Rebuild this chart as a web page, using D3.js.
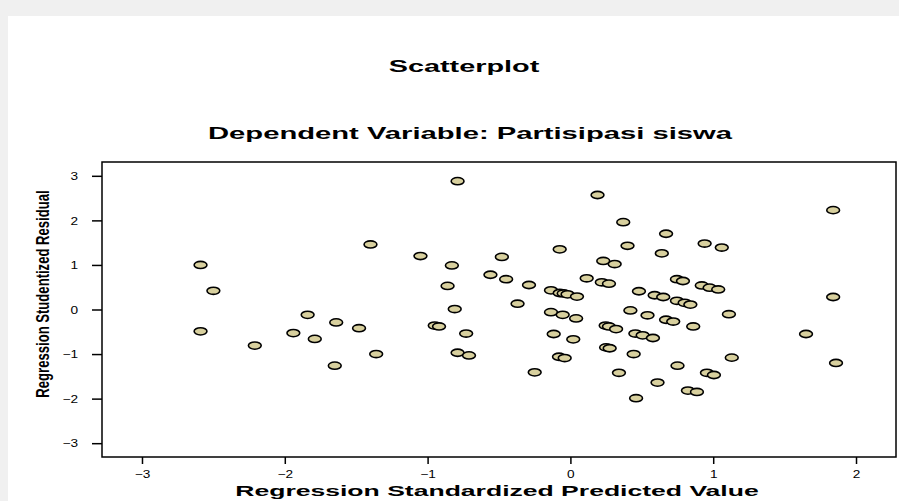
<!DOCTYPE html>
<html>
<head>
<meta charset="utf-8">
<script src="https://cdn.jsdelivr.net/npm/d3@7"></script>
<style>
  body { margin: 0; background: #f0f0f0; }
  text { font-family: "Liberation Sans", Arial, sans-serif; fill: #000; }
</style>
</head>
<body>
<div id="chart"></div>
<script>
/* DATA */
const predicted = [
  -1.40, -2.59, -2.50, -1.84, -1.64, -1.48, -2.59, -1.94, -1.79, -2.21, -1.36, -1.65,
  -0.79, 0.19, 0.37, 0.40, -0.075, -1.05, -0.48, -0.83, 0.23, 0.31, -0.56, -0.45,
  0.114, -0.86, -0.29, 0.22, 0.27, 0.48, -0.136, -0.075, -0.047, -0.02, 0.046, -0.37,
  -0.81, -0.136, -0.054, 0.04, 0.42, 0.54, -0.95, -0.92, -0.73, 0.247, 0.27, 0.32,
  -0.117, 0.02, 0.455, 0.506, -0.79, -0.71, 0.25, 0.275, 0.443, -0.08, -0.04, -0.25,
  0.34, 0.46,
  0.67, 0.94, 1.06, 0.64, 0.746, 0.788, 0.92, 0.975, 1.035, 0.59, 0.65, 0.746,
  0.80, 0.84, 1.11, 0.67, 0.72, 0.86, 0.578, 0.75, 1.13, 0.61, 0.956, 1.005,
  0.823, 0.886, 1.84, 1.84, 1.65, 1.86
];
const residual = [
  1.46, 1.00, 0.42, -0.12, -0.29, -0.42, -0.49, -0.53, -0.66, -0.81, -1.00, -1.26,
  2.88, 2.57, 1.96, 1.43, 1.35, 1.20, 1.18, 0.99, 1.09, 1.02, 0.78, 0.68,
  0.70, 0.53, 0.55, 0.61, 0.58, 0.41, 0.43, 0.37, 0.36, 0.34, 0.29, 0.13,
  0.01, -0.06, -0.12, -0.20, -0.02, -0.13, -0.36, -0.38, -0.54, -0.36, -0.38, -0.44,
  -0.55, -0.67, -0.54, -0.58, -0.97, -1.03, -0.85, -0.87, -1.00, -1.06, -1.09, -1.41,
  -1.42, -1.99,
  1.70, 1.48, 1.39, 1.26, 0.68, 0.64, 0.54, 0.49, 0.45, 0.32, 0.28, 0.195,
  0.15, 0.11, -0.105, -0.23, -0.27, -0.38, -0.64, -1.26, -1.08, -1.64, -1.42, -1.47,
  -1.82, -1.85, 2.23, 0.28, -0.55, -1.20
];
const xTicks = [-3, -2, -1, 0, 1, 2];
const yTicks = [-3, -2, -1, 0, 1, 2, 3];
const title = "Scatterplot";
const subtitle = "Dependent Variable: Partisipasi siswa";
const xLabel = "Regression Standardized Predicted Value";
const yLabel = "Regression Studentized Residual";

/* SIZES */
const width = 899, height = 501;
const stretch = 1.77; // the original picture is stretched sideways
const frame = {left: 102, right: 896, top: 162, bottom: 457};

const points = predicted.map((p, i) => ({x: p, y: residual[i]}));

const svg = d3.select("#chart").append("svg")
  .attr("width", width)
  .attr("height", height)
  .style("display", "block");

// grey page and white panel
svg.append("rect").attr("width", width).attr("height", height).attr("fill", "#f0f0f0");
svg.append("rect").attr("x", 8).attr("y", 16).attr("width", width - 8).attr("height", height - 16).attr("fill", "#fff");

const x = d3.scaleLinear().domain([-3.28, 2.28]).range([frame.left, frame.right]);
const y = d3.scaleLinear().domain([-3.31, 3.31]).range([frame.bottom, frame.top]);

// titles
svg.append("text")
  .attr("transform", `translate(464,72) scale(${stretch},1)`)
  .attr("text-anchor", "middle")
  .style("font-weight", "bold")
  .style("font-size", "16.3px")
  .text(title);

svg.append("text")
  .attr("transform", `translate(470,139) scale(${stretch},1)`)
  .attr("text-anchor", "middle")
  .style("font-weight", "bold")
  .style("font-size", "16.5px")
  .text(subtitle);

// axes
const xAxis = svg.append("g")
  .attr("transform", `translate(0,${frame.bottom})`)
  .call(d3.axisBottom(x).tickValues(xTicks).tickSize(7).tickSizeOuter(0).tickFormat(d3.format("d")));
xAxis.select(".domain").remove();
xAxis.selectAll(".tick line").attr("stroke", "#000").attr("stroke-width", 1.5);
xAxis.selectAll(".tick text")
  .attr("y", 21).attr("dy", 0)
  .attr("transform", "scale(1.3,1)")
  .style("font-size", "10.5px")
  .style("font-family", "'Liberation Sans', Arial, sans-serif");

const yAxis = svg.append("g")
  .attr("transform", `translate(${frame.left},0)`)
  .call(d3.axisLeft(y).tickValues(yTicks).tickSize(10).tickSizeOuter(0).tickFormat(d3.format("d")));
yAxis.select(".domain").remove();
yAxis.selectAll(".tick line").attr("stroke", "#000").attr("stroke-width", 1.5);
yAxis.selectAll(".tick text")
  .attr("x", -24 / 1.3).attr("dy", "0.35em")
  .attr("transform", "scale(1.3,1)")
  .style("font-size", "10.5px")
  .style("font-family", "'Liberation Sans', Arial, sans-serif");

// axis titles
svg.append("text")
  .attr("transform", `translate(497,496) scale(${stretch},1)`)
  .attr("text-anchor", "middle")
  .style("font-weight", "bold")
  .style("font-size", "15px")
  .text(xLabel);

svg.append("text")
  .attr("transform", "translate(49,294) scale(1.4,1) rotate(-90)")
  .attr("text-anchor", "middle")
  .style("font-weight", "bold")
  .style("font-size", "13.1px")
  .text(yLabel);

// points
svg.append("g")
  .selectAll("ellipse")
  .data(points)
  .join("ellipse")
  .attr("cx", d => x(d.x))
  .attr("cy", d => y(d.y))
  .attr("rx", 6.4)
  .attr("ry", 3.6)
  .attr("fill", "#d8d09e")
  .attr("stroke", "#000")
  .attr("stroke-width", 1.6);

// frame
svg.append("rect")
  .attr("x", frame.left)
  .attr("y", frame.top)
  .attr("width", frame.right - frame.left)
  .attr("height", frame.bottom - frame.top)
  .attr("fill", "none")
  .attr("stroke", "#000")
  .attr("stroke-width", 1.5);
</script>
</body>
</html>
